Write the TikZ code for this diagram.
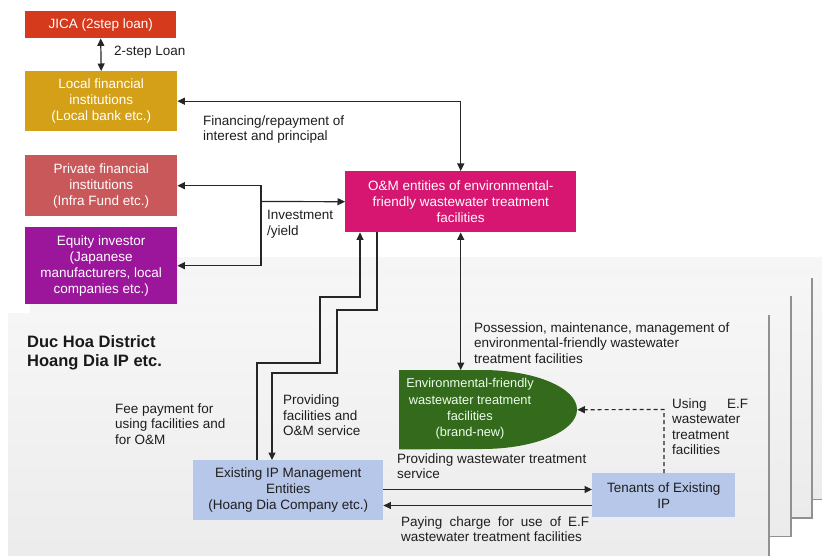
\documentclass[tikz,border=0pt]{standalone}
\usepackage{fontspec}
\setmainfont{Liberation Sans}
\usetikzlibrary{arrows.meta}

\definecolor{jicared}{RGB}{214,58,28}
\definecolor{localgold}{RGB}{211,160,24}
\definecolor{privred}{RGB}{201,88,90}
\definecolor{eqpurple}{RGB}{156,22,156}
\definecolor{ompink}{RGB}{214,22,112}
\definecolor{efgreen}{RGB}{52,106,28}
\definecolor{ipblue}{RGB}{182,199,233}
\definecolor{labeldark}{RGB}{30,30,30}
\definecolor{paneltop}{RGB}{246,246,246}
\definecolor{panelbot}{RGB}{235,235,235}
\definecolor{paneledge}{RGB}{145,145,145}

\tikzset{
  boxtext/.style={font=\fontsize{13.5}{16}\selectfont, text=white, align=center},
  colbox/.style={rectangle, inner sep=0pt, anchor=north west, boxtext},
  lbl/.style={font=\fontsize{13.5}{15.5}\selectfont, text=labeldark, align=left, inner sep=0pt, anchor=west},
  flow/.style={draw=black!85, line width=1.2pt, -{Triangle[length=7.5pt,width=7pt]}},
  biflow/.style={draw=black!85, line width=1.2pt, {Triangle[length=7.5pt,width=7pt]}-{Triangle[length=7.5pt,width=7pt]}},
  panel/.style={top color=paneltop, bottom color=panelbot},
  paneline/.style={draw=paneledge, line width=1.5pt}
}

\begin{document}
\begin{tikzpicture}[x=1pt,y=-1pt]
\useasboundingbox (0,0) rectangle (822,556);
\fill[white] (0,0) rectangle (822,556);

% stacked district sheets, rearmost first
\shade[panel] (74,257.5) rectangle (834,499.5);
\draw[paneline] (74,499.5) -- (834,499.5);
\shade[panel] (52,276) rectangle (812,518);
\draw[paneline] (52,518) -- (812,518) -- (812,278);
\shade[panel] (30,294.5) rectangle (791,536.5);
\draw[paneline] (30,536.5) -- (791,536.5) -- (791,296);
\shade[panel] (8,313) rectangle (769,575);
\draw[paneline] (769,575) -- (769,315);

% funding side
\node[colbox, fill=jicared, minimum width=151pt, minimum height=27pt] (jica) at (25,11) {JICA (2step loan)};
\node[colbox, fill=localgold, minimum width=152pt, minimum height=60pt] (local) at (25,71)
  {Local financial\\institutions\\(Local bank etc.)};
\node[colbox, fill=privred, minimum width=152pt, minimum height=61pt] (priv) at (25,155)
  {Private financial\\institutions\\(Infra Fund etc.)};
\node[colbox, fill=eqpurple, minimum width=152pt, minimum height=77pt] (eq) at (25,227)
  {Equity investor\\(Japanese\\manufacturers, local\\companies etc.)};
\node[colbox, fill=ompink, minimum width=231pt, minimum height=61pt] (om) at (345,171)
  {O\&M entities of environmental-\\friendly wastewater treatment\\facilities};

% district side
\node[colbox, fill=ipblue, text=labeldark, minimum width=190pt, minimum height=60pt] (ipm) at (193,460)
  {Existing IP Management\\Entities\\(Hoang Dia Company etc.)};
\node[colbox, fill=ipblue, text=labeldark, minimum width=143pt, minimum height=44pt] (ten) at (592,473)
  {Tenants of Existing\\IP};

% treatment facility: square left side, rounded right side
\node[rectangle, inner sep=0pt, anchor=north west, minimum width=178pt, minimum height=79pt] (ef) at (399,370) {};
\fill[efgreen] (ef.north west) -- (482,370) arc[start angle=90, end angle=-90, x radius=95pt, y radius=39.5pt]
  -- (ef.south west) -- cycle;
\node[font=\fontsize{12.8}{16.3}\selectfont, text=white!92!green, align=center, inner sep=0pt] (eftext) at (470,409)
  {Environmental-friendly\\wastewater treatment\\facilities\\(brand-new)};

\node[lbl, font=\bfseries\fontsize{16.5}{19}\selectfont, text=black!90] (district) at (27,352.5)
  {Duc Hoa District\\Hoang Dia IP etc.};

% routing points
\coordinate (inv) at (261,201.5);
\coordinate (fa) at (257,363);
\coordinate (fb) at (320,297);
\coordinate (fc) at (360,297);
\coordinate (pa) at (377,310);
\coordinate (pb) at (337,373);
\coordinate (pc) at (272,373);
\coordinate (ya) at (0,489.5);
\coordinate (yb) at (0,505.5);
\coordinate (da) at (664,409.5);

% connectors
\draw[biflow] (jica.south) -- (local.north);
\draw[biflow] (local.east) -| (om.north);
\draw[biflow] (priv.east) -| (inv) |- (eq.east);
\draw[flow] (inv) -- (om.west);
\draw[biflow] (om.south) -- (ef.north -| om.south);
\draw[flow] (ipm.north -| fa) -- (fa) -| (fb) -- (fc) -- (om.south -| fc);
\draw[flow] (om.south -| pa) -- (pa) -| (pb) -- (pc) -- (ipm.north -| pc);
\draw[flow] (ipm.east |- ya) -- (ten.west |- ya);
\draw[flow] (ten.west |- yb) -- (ipm.east |- yb);
\draw[flow, dash pattern=on 4pt off 3pt] (ten.north -| da) -- (da) -- (ef.east);

% connector labels
\node[lbl] (l2step) at (114,52) {2-step Loan};
\node[lbl] (lfin) at (203,129.5) {Financing/repayment of\\interest and principal};
\node[lbl] (linv) at (267,224.5) {Investment\\/yield};
\node[lbl] (lpos) at (474,343) {Possession, maintenance, management of\\environmental-friendly wastewater\\treatment facilities};
\node[lbl] (lfee) at (115,424) {Fee payment for\\using facilities and\\for O\&M};
\node[lbl] (lprov) at (283,415.5) {Providing\\facilities and\\O\&M service};
\node[lbl] (lserv) at (397,466) {Providing wastewater treatment\\service};
\node[lbl] (lpay) at (401,529) {\makebox[188pt][s]{Paying charge for use of E.F}\\wastewater treatment facilities};
\node[lbl] (luse) at (672,426.5) {\makebox[76pt][s]{Using E.F}\\wastewater\\treatment\\facilities};
\end{tikzpicture}
\end{document}
